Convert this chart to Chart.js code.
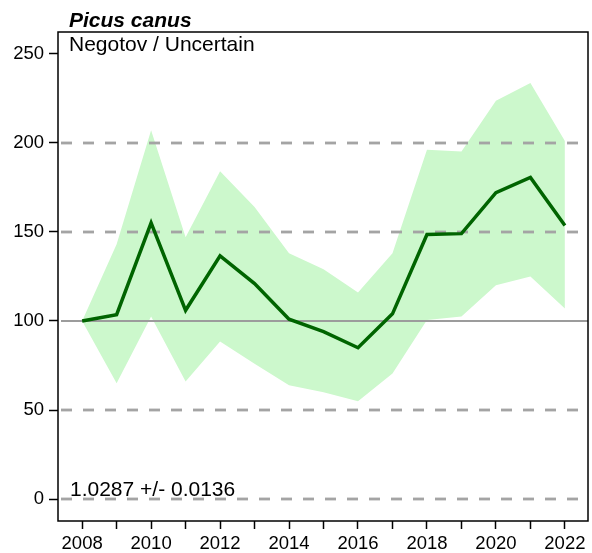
<!DOCTYPE html>
<html>
<head>
<meta charset="utf-8">
<script src="https://cdn.jsdelivr.net/npm/chart.js@4"></script>
<style>
  html, body { margin: 0; padding: 0; background: #fff; }
  canvas { display: block; }
</style>
</head>
<body>
<canvas id="trendChart" width="592" height="553"></canvas>
<script>
const years = [2008, 2009, 2010, 2011, 2012, 2013, 2014, 2015, 2016, 2017, 2018, 2019, 2020, 2021, 2022];
const indexValues = [100, 103.5, 155, 106, 136.5, 121, 101, 94, 85, 104, 148.5, 149, 172, 180.5, 153.5];
const upperCI = [100, 143, 207, 147, 184, 164, 138, 129, 116, 138, 196, 195, 223.5, 233.5, 201];
const lowerCI = [100, 65, 102.5, 66, 88.5, 76, 64, 60, 55, 70.5, 100.5, 102.5, 120, 125, 107];
const yTicks = [0, 50, 100, 150, 200, 250];
const gridValues = [0, 50, 100, 150, 200];
const xLabelYears = [2008, 2010, 2012, 2014, 2016, 2018, 2020, 2022];

const titleText = 'Picus canus';
const subText = 'Negotov / Uncertain';
const slopeText = '1.0287 +/- 0.0136';

const FONT = 'Arial, "Liberation Sans", sans-serif';

const pts = arr => years.map((y, i) => ({ x: y, y: arr[i] }));

// dashed gridlines drawn between the band and the trend line
const gridPlugin = {
  id: 'gridLines',
  beforeDatasetDraw(chart, args) {
    if (args.index !== 0) return;
    const { ctx, chartArea, scales } = chart;
    ctx.save();
    ctx.beginPath();
    ctx.rect(chartArea.left, chartArea.top, chartArea.width, chartArea.height);
    ctx.clip();
    gridValues.forEach(v => {
      const y = Math.round(scales.y.getPixelForValue(v));
      ctx.beginPath();
      if (v === 100) {
        ctx.setLineDash([]);
        ctx.strokeStyle = '#9c9c9c';
        ctx.lineWidth = 2;
      } else {
        ctx.setLineDash([11, 11]);
        ctx.strokeStyle = '#a4a4a4';
        ctx.lineWidth = 2.8;
      }
      ctx.moveTo(chartArea.left + 3, y);
      ctx.lineTo(chartArea.right, y);
      ctx.stroke();
    });
    ctx.restore();
  }
};

const boxPlugin = {
  id: 'boxAndText',
  afterDraw(chart) {
    const { ctx, chartArea } = chart;
    ctx.save();
    ctx.strokeStyle = '#000';
    ctx.lineWidth = 1.5;
    ctx.strokeRect(chartArea.left, chartArea.top, chartArea.width, chartArea.height);

    ctx.fillStyle = '#000';
    ctx.textAlign = 'left';
    ctx.textBaseline = 'alphabetic';
    ctx.font = 'italic bold 21px ' + FONT;
    ctx.fillText(titleText, 69, 27);
    ctx.font = '21px ' + FONT;
    ctx.fillText(subText, 69, 51);
    ctx.fillText(slopeText, 70, 496);
    ctx.restore();
  }
};

new Chart(document.getElementById('trendChart'), {
  type: 'line',
  data: {
    datasets: [
      {
        label: 'Index',
        data: pts(indexValues),
        borderColor: '#006400',
        borderWidth: 3.5,
        pointRadius: 0,
        tension: 0,
        fill: false
      },
      {
        label: 'Upper',
        data: pts(upperCI),
        borderWidth: 0,
        borderColor: 'rgba(0,0,0,0)',
        backgroundColor: '#ccf8cc',
        pointRadius: 0,
        fill: '+1'
      },
      {
        label: 'Lower',
        data: pts(lowerCI),
        borderWidth: 0,
        borderColor: 'rgba(0,0,0,0)',
        pointRadius: 0,
        fill: false
      }
    ]
  },
  options: {
    responsive: false,
    animation: false,
    devicePixelRatio: 1,
    layout: { padding: { left: 0, top: 32, right: 4, bottom: 0 } },
    plugins: {
      legend: { display: false },
      tooltip: { enabled: false }
    },
    scales: {
      x: {
        type: 'linear',
        min: 2007.3,
        max: 2022.67,
        afterBuildTicks: s => { s.ticks = years.map(v => ({ value: v })); },
        afterFit: s => { s.height = 32; },
        ticks: {
          autoSkip: false,
          maxRotation: 0,
          padding: 4,
          color: '#000',
          font: { family: FONT, size: 18.5 },
          callback: v => xLabelYears.includes(v) ? String(v) : ''
        },
        grid: {
          drawOnChartArea: false,
          drawTicks: true,
          tickLength: 8,
          tickColor: '#000',
          tickWidth: 1.5
        },
        border: { display: false }
      },
      y: {
        min: -12.2,
        max: 262.1,
        afterBuildTicks: s => { s.ticks = yTicks.map(v => ({ value: v })); },
        afterFit: s => { s.width = 58; },
        ticks: {
          padding: 5,
          color: '#000',
          font: { family: FONT, size: 18.5 }
        },
        grid: {
          drawOnChartArea: false,
          drawTicks: true,
          tickLength: 9,
          tickColor: '#000',
          tickWidth: 1.5
        },
        border: { display: false }
      }
    }
  },
  plugins: [gridPlugin, boxPlugin]
});
</script>
</body>
</html>
